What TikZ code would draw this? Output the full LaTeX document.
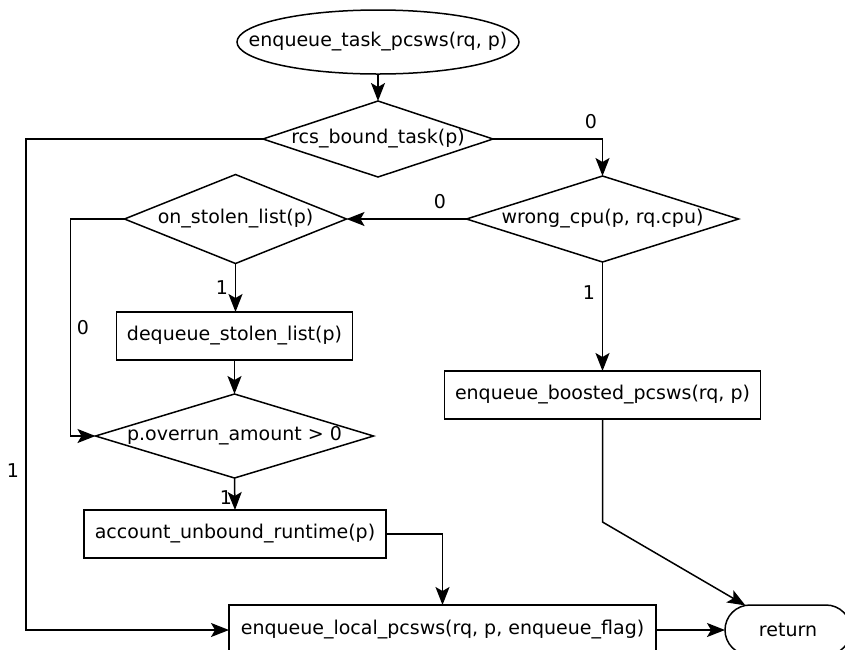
\documentclass[tikz,border=0pt]{standalone}
\usepackage{fontspec}
\setmainfont{DejaVu Sans}
\usetikzlibrary{shapes.geometric,shapes.misc,arrows.meta}
\begin{document}
\begin{tikzpicture}[x=1pt,y=-1pt,
  font=\fontsize{19}{23}\selectfont,
  every node/.style={inner sep=0pt, outer sep=0pt},
  box/.style={draw, rectangle, line width=1.5pt, minimum height=48pt},
  decision/.style={draw, diamond, line width=1.5pt},
  flow/.style={line width=1.5pt, -{Stealth[length=18pt,width=14pt,inset=4pt]}},
  lbl/.style={font=\fontsize{19}{23}\selectfont}]
\useasboundingbox (0,0) rectangle (845,649);
\clip (0,0) rectangle (845,649);

% nodes
\node[draw, ellipse, line width=1.5pt, minimum width=282pt, minimum height=64pt]
  (start) at (378,42) {\makebox[0pt]{enqueue\_task\_pcsws(rq, p)}};
\node[decision, minimum width=230pt, minimum height=76pt]
  (rcs) at (378,139) {\makebox[0pt]{rcs\_bound\_task(p)}};
\node[decision, minimum width=272pt, minimum height=86pt]
  (wc) at (602.5,219) {\makebox[0pt]{wrong\_cpu(p, rq.cpu)}};
\node[decision, minimum width=222pt, minimum height=89pt]
  (os) at (235.5,219) {\makebox[0pt]{on\_stolen\_list(p)}};
\node[box, minimum width=236pt]
  (ds) at (234.5,336) {\makebox[0pt]{dequeue\_stolen\_list(p)}};
\node[decision, minimum width=278pt, minimum height=84pt]
  (po) at (234.5,436) {\makebox[0pt]{p.overrun\_amount > 0}};
\node[box, minimum width=302pt]
  (acc) at (235,534) {\makebox[0pt]{account\_unbound\_runtime(p)}};
\node[box, minimum width=316pt]
  (bst) at (602.5,395) {\makebox[0pt]{enqueue\_boosted\_pcsws(rq, p)}};
\node[box, minimum width=427pt, minimum height=50pt]
  (loc) at (442.5,630) {\makebox[0pt]{enqueue\_local\_pcsws(rq, p, enqueue\_flag)}};
\node[draw, rounded rectangle, line width=1.5pt, minimum width=126pt, minimum height=50pt]
  (ret) at (788,630) {\makebox[0pt]{return}};
\coordinate (bend) at (602.5,522);

% connectors
\draw[flow] (start.south) -- (rcs.north);
\draw[flow] (rcs.east) -| (wc.north);
\draw[flow] (rcs.west) -- ++(-237,0) |- (loc.west);
\draw[flow] (wc.west) -- (os.east);
\draw[flow] (wc.south) -- (bst.north);
\draw[flow] (os.south) -- (os.south |- ds.north);
\draw[flow] (os.west) -- ++(-54,0) |- (po.west);
\draw[flow] (ds.south) -- (po.north);
\draw[flow] (po.south) -- (acc.north);
\draw[flow] (acc.east) -| (loc.north);
\draw[flow] (loc.east) -- (ret.west);
\draw[flow] (bst.south) -- (bend) -- (ret.150);

% branch labels
\node[lbl] (l1) at (13,471) {1};
\node[lbl] (l2) at (591,122) {0};
\node[lbl] (l3) at (440,202) {0};
\node[lbl] (l4) at (589,293) {1};
\node[lbl] (l5) at (222,288) {1};
\node[lbl] (l6) at (83,328) {0};
\node[lbl] (l7) at (226,498) {1};
\end{tikzpicture}
\end{document}
